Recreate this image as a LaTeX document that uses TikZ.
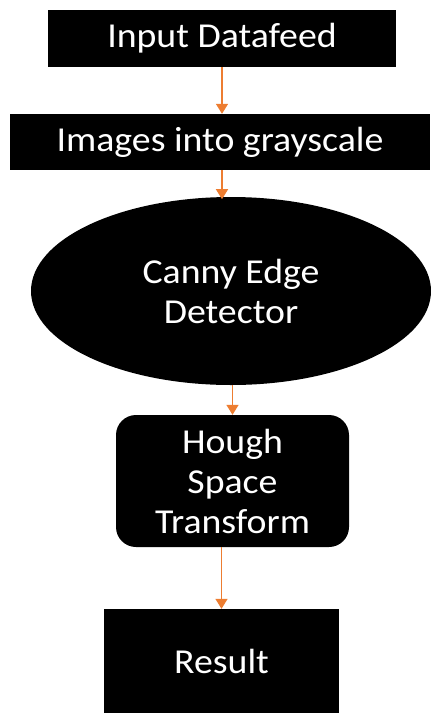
\documentclass[tikz,border=0pt]{standalone}
\usepackage{fontspec}
\setmainfont{Carlito}[FakeStretch=1.08]
\usetikzlibrary{shapes.geometric,arrows.meta}
\definecolor{arrorange}{HTML}{ED7D31}
\begin{document}
\begin{tikzpicture}[x=1pt,y=-1pt,
  blk/.style={fill=black,text=white,inner sep=0pt,align=center,
    font=\fontsize{35}{40}\selectfont},
  flow/.style={draw=arrorange,line width=1.5pt,-{Triangle[width=12pt,length=10pt]}}]
\useasboundingbox(0,0)rectangle(431,713);
\node[blk,minimum width=348,minimum height=57](inp)at(222,38.5){Input Datafeed};
\node[blk,minimum width=420,minimum height=56](gray)at(220,142){Images into grayscale};
\node[blk,ellipse,minimum width=400,minimum height=188](canny)at(231,291){Canny Edge\\Detector};
\node[blk,rounded corners=20,minimum width=233,minimum height=132](hough)at(232.5,481){Hough\\Space\\Transform};
\node[blk,minimum width=235,minimum height=104](res)at(221.5,661){Result};
\draw[flow](inp.south)--(gray.north-|inp.south);
\draw[flow](gray.south-|inp.south)--++(0,29);
\draw[flow](canny.south-|hough.north)--(hough.north);
\draw[flow](hough.south-|res.north)--(res.north);
\end{tikzpicture}
\end{document}
